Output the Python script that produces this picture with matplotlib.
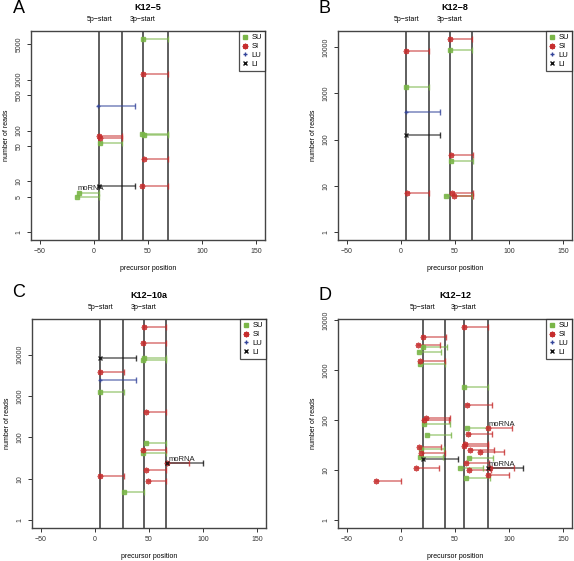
import numpy as np
from matplotlib import pyplot as plt
from matplotlib.lines import Line2D

# reads per precursor: (start, end, number of reads)
A_SU = [(45, 68, 6400), (44, 68, 85), (46, 68, 82), (6, 26, 57), (-16, 5, 5), (-14, 5, 6)]
A_SI = [(45, 68, 1270), (5, 26, 79), (6, 26, 70), (46, 68, 27), (44, 68, 8)]
A_LU = [(4, 38, 300)]
A_LI = [(5, 38, 8)]
A_LINES = [5, 26, 45, 68]
A_MORNA = [(-16, 6)]

B_SU = [(45, 66, 8500), (5, 26, 1360), (46, 67, 35), (42, 66, 6)]
B_SI = [(45, 66, 15000), (5, 26, 8000), (46, 67, 46), (6, 26, 7), (47, 67, 7), (49, 67, 6)]
B_LU = [(5, 36, 390)]
B_LI = [(5, 36, 128)]
B_LINES = [5, 26, 45, 66]
B_MORNA = []

C_SU = [(45, 66, 8150), (44, 66, 7430), (5, 27, 1250), (47, 66, 74), (44, 66, 41), (27, 45, 4.8)]
C_SI = [(45, 66, 47000), (44, 66, 19000), (5, 27, 3870), (47, 66, 417), (44, 66, 49),
        (67, 87, 24), (47, 66, 16), (5, 27, 11.8), (49, 66, 8.8)]
C_LU = [(5, 38, 2480)]
C_LI = [(5, 38, 8150), (67, 100, 24)]
C_LINES = [5, 26, 45, 66]
C_MORNA = [(67, 24)]

D_SU = [(20, 43, 2940), (17, 37, 2260), (18, 41, 1310), (58, 80, 450), (21, 45, 83),
        (61, 80, 71), (24, 46, 51), (19, 40, 27), (63, 85, 17.8), (18, 39, 18.6),
        (55, 76, 11), (60, 82, 7)]
D_SI = [(58, 80, 7360), (20, 42, 4650), (16, 36, 3220), (18, 41, 1550), (61, 84, 202),
        (23, 45, 110), (21, 44, 100), (80, 103, 69), (62, 84, 53), (58, 80, 31),
        (59, 80, 33), (17, 37, 29), (64, 86, 25), (73, 95, 23), (19, 41, 21.6),
        (60, 81, 13.9), (14, 35, 11), (82, 104, 11), (63, 83, 10), (80, 100, 7.9),
        (-23, 0, 6.1)]
D_LU = []
D_LI = [(20, 53, 17), (80, 113, 11)]
D_LINES = [20, 41, 58, 80]
D_MORNA = [(80, 69), (80, 11)]

TITLES = ["K12\u22125", "K12\u22128", "K12\u221210a", "K12\u221212"]
LETTERS = ["A", "B", "C", "D"]

plt.rcParams["font.family"] = ["Liberation Sans", "DejaVu Sans"]
plt.rcParams["axes.linewidth"] = 1.0

colors = {"SU": "#7ab648", "SI": "#c62d2d", "LU": "#33449a", "LI": "#111111"}
markers = {"SU": "s", "SI": (8, 2, 0), "LU": "+", "LI": "x"}
msizes = {"SU": 3.2, "SI": 4.0, "LU": 2.5, "LI": 2.5}

fig = plt.figure(figsize=(5.74, 5.61), dpi=100)
pos = [
    [31 / 574, 1 - 240 / 561, 234 / 574, 209 / 561],
    [338 / 574, 1 - 240 / 561, 234 / 574, 209 / 561],
    [32 / 574, 1 - 528 / 561, 234 / 574, 209 / 561],
    [338 / 574, 1 - 528 / 561, 234 / 574, 209 / 561],
]
panels = [
    (A_SU, A_SI, A_LU, A_LI, A_LINES, A_MORNA),
    (B_SU, B_SI, B_LU, B_LI, B_LINES, B_MORNA),
    (C_SU, C_SI, C_LU, C_LI, C_LINES, C_MORNA),
    (D_SU, D_SI, D_LU, D_LI, D_LINES, D_MORNA),
]

for i, (su, si, lu, li, lines, morna) in enumerate(panels):
    ax = fig.add_axes(pos[i])
    ax.set_yscale("log")
    ax.set_xlim(-58, 158)
    top = max(r for _, _, r in su + si + lu + li)
    L = np.log10(top)
    ax.set_ylim(10 ** (-0.04 * L), 10 ** (1.04 * L))

    for x in lines:
        ax.axvline(x, color="#333333", lw=1.1, zorder=1)

    for name, data in [("SU", su), ("SI", si), ("LU", lu), ("LI", li)]:
        for start, end, reads in data:
            ax.plot([start, end], [reads, reads], color=colors[name], lw=1.1,
                    alpha=0.65, zorder=2)
            ax.plot(end, reads, marker="|", ms=4, mew=1.0, color=colors[name],
                    alpha=0.8, zorder=3)
            ax.plot(start, reads, marker=markers[name], ms=msizes[name],
                    mew=1.0, color=colors[name], alpha=0.85, zorder=4,
                    linestyle="none")

    for x, reads in morna:
        ax.text(x + 1, reads * 1.02, "moRNA", fontsize=5.5, ha="left", va="bottom",
                color="#222222", zorder=5)

    # R-style axes
    if i == 0:
        yt = [1, 5, 10, 50, 100, 500, 1000, 5000]
    else:
        yt = [1, 10, 100, 1000, 10000]
    ax.set_yticks(yt)
    ax.set_yticklabels([str(t) for t in yt], rotation=90, va="center")
    ax.yaxis.set_minor_locator(plt.NullLocator())
    ax.set_xticks([-50, 0, 50, 100, 150])
    ax.set_xticklabels(["\u221250", "0", "50", "100", "150"])
    ax.tick_params(labelsize=5, length=3, width=0.7, pad=3, colors="#333333")
    for s in ax.spines.values():
        s.set_color("#444444")

    ax.set_xlabel("precursor position", fontsize=5, labelpad=7)
    ax.set_ylabel("number of reads", fontsize=5, labelpad=4)

    # start markers above the plot
    ax.text(lines[0], 1.04, "5p\u2212start", transform=ax.get_xaxis_transform(),
            fontsize=5, ha="center", va="bottom")
    ax.text(lines[2], 1.04, "3p\u2212start", transform=ax.get_xaxis_transform(),
            fontsize=5, ha="center", va="bottom")
    ax.text(0.5, 1.09, TITLES[i], transform=ax.transAxes, fontsize=6.5,
            fontweight="bold", ha="center", va="bottom")

    handles = [
        Line2D([], [], linestyle="none", marker=markers[k], ms=msizes[k], mew=1.0,
               color=colors[k], label=k)
        for k in ["SU", "SI", "LU", "LI"]
    ]
    leg = ax.legend(handles=handles, loc="upper right", fontsize=5.5, frameon=True,
                    fancybox=False, borderaxespad=0, handlelength=0.8,
                    handletextpad=0.4, borderpad=0.4, labelspacing=0.2)
    leg.get_frame().set_edgecolor("#222222")
    leg.get_frame().set_linewidth(0.9)

# panel letters
fig.text(13 / 574, 1 - 13 / 561, "A", fontsize=13)
fig.text(319 / 574, 1 - 13 / 561, "B", fontsize=13)
fig.text(12 / 574, 1 - 297 / 561, "C", fontsize=13)
fig.text(319 / 574, 1 - 300 / 561, "D", fontsize=13)

plt.savefig("out.png", dpi=100)
